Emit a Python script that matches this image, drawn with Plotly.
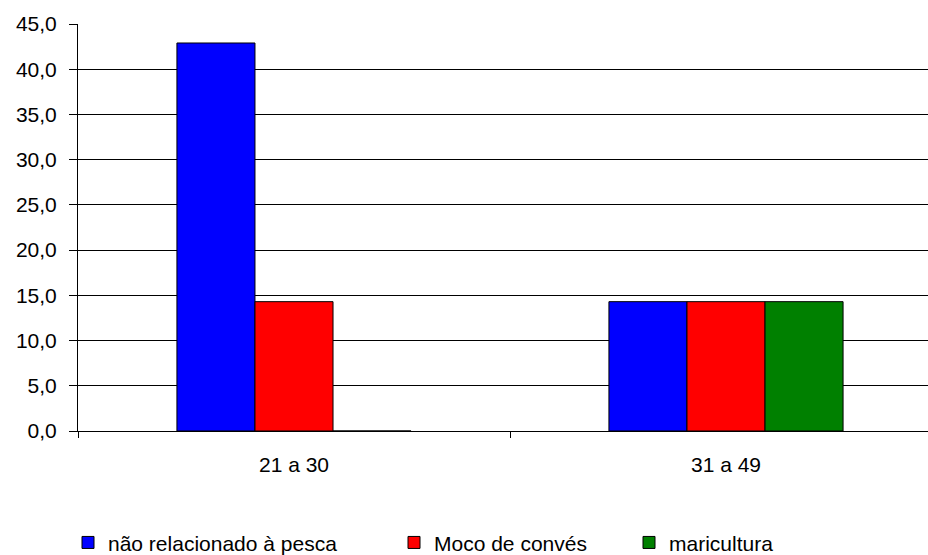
import plotly.graph_objects as go

categories = ["21 a 30", "31 a 49"]
series_names = ["não relacionado à pesca", "Moco de convés", "maricultura"]
values_nao_relacionado = [42.9, 14.3]
values_moco = [14.3, 14.3]
values_maricultura = [0.0, 14.3]
series_colors = ["#0000FF", "#FF0000", "#008000"]
y_ticks = [0, 5, 10, 15, 20, 25, 30, 35, 40, 45]

FONT = "Liberation Sans, Arial, sans-serif"
FS = 21

W, H = 928, 555

fig = go.Figure()
all_vals = [values_nao_relacionado, values_moco, values_maricultura]
legend_ids = ["legend", "legend2", "legend3"]
for name, vals, col, lg in zip(series_names, all_vals, series_colors, legend_ids):
    fig.add_trace(go.Bar(
        x=categories, y=vals, name=name,
        marker=dict(color=col, line=dict(color="black", width=1)),
        legend=lg, showlegend=True,
    ))

legend_common = dict(
    orientation="h", xref="container", yref="container",
    yanchor="middle", xanchor="left",
    font=dict(family=FONT, size=FS, color="black"),
    bgcolor="rgba(0,0,0,0)", borderwidth=0,
    visible=True,
)
leg_y = 0.022

fig.update_layout(
    width=W, height=H,
    showlegend=True,
    margin=dict(l=78, r=0, t=24, b=124),
    paper_bgcolor="white", plot_bgcolor="white",
    barmode="group", bargap=0.458, bargroupgap=0,
    separators=",.",
    font=dict(family=FONT, size=FS, color="black"),
    legend=dict(**legend_common, x=68 / W, y=leg_y),
    legend2=dict(**legend_common, x=394 / W, y=leg_y),
    legend3=dict(**legend_common, x=629 / W, y=leg_y),
    xaxis=dict(
        range=[-0.5, -0.5 + 850 / 432],
        showline=True, linecolor="black", linewidth=1,
        ticks="outside", ticklen=6, tickcolor="black", tickwidth=1,
        tickson="boundaries", showgrid=False,
        ticklabelstandoff=15,
        tickfont=dict(family=FONT, size=FS, color="black"),
    ),
    yaxis=dict(
        range=[0, 45.0001],
        tickvals=y_ticks, tickformat=".1f",
        showline=True, linecolor="black", linewidth=1,
        ticks="outside", ticklen=8, tickcolor="black", tickwidth=1,
        showgrid=True, gridcolor="black", gridwidth=1,
        zeroline=False,
        ticklabelstandoff=8,
        tickfont=dict(family=FONT, size=FS, color="black"),
    ),
)

fig.write_html(
    "out.html",
    config={"displayModeBar": False},
    post_script="document.body.style.margin='0';document.body.style.overflow='hidden';",
)
